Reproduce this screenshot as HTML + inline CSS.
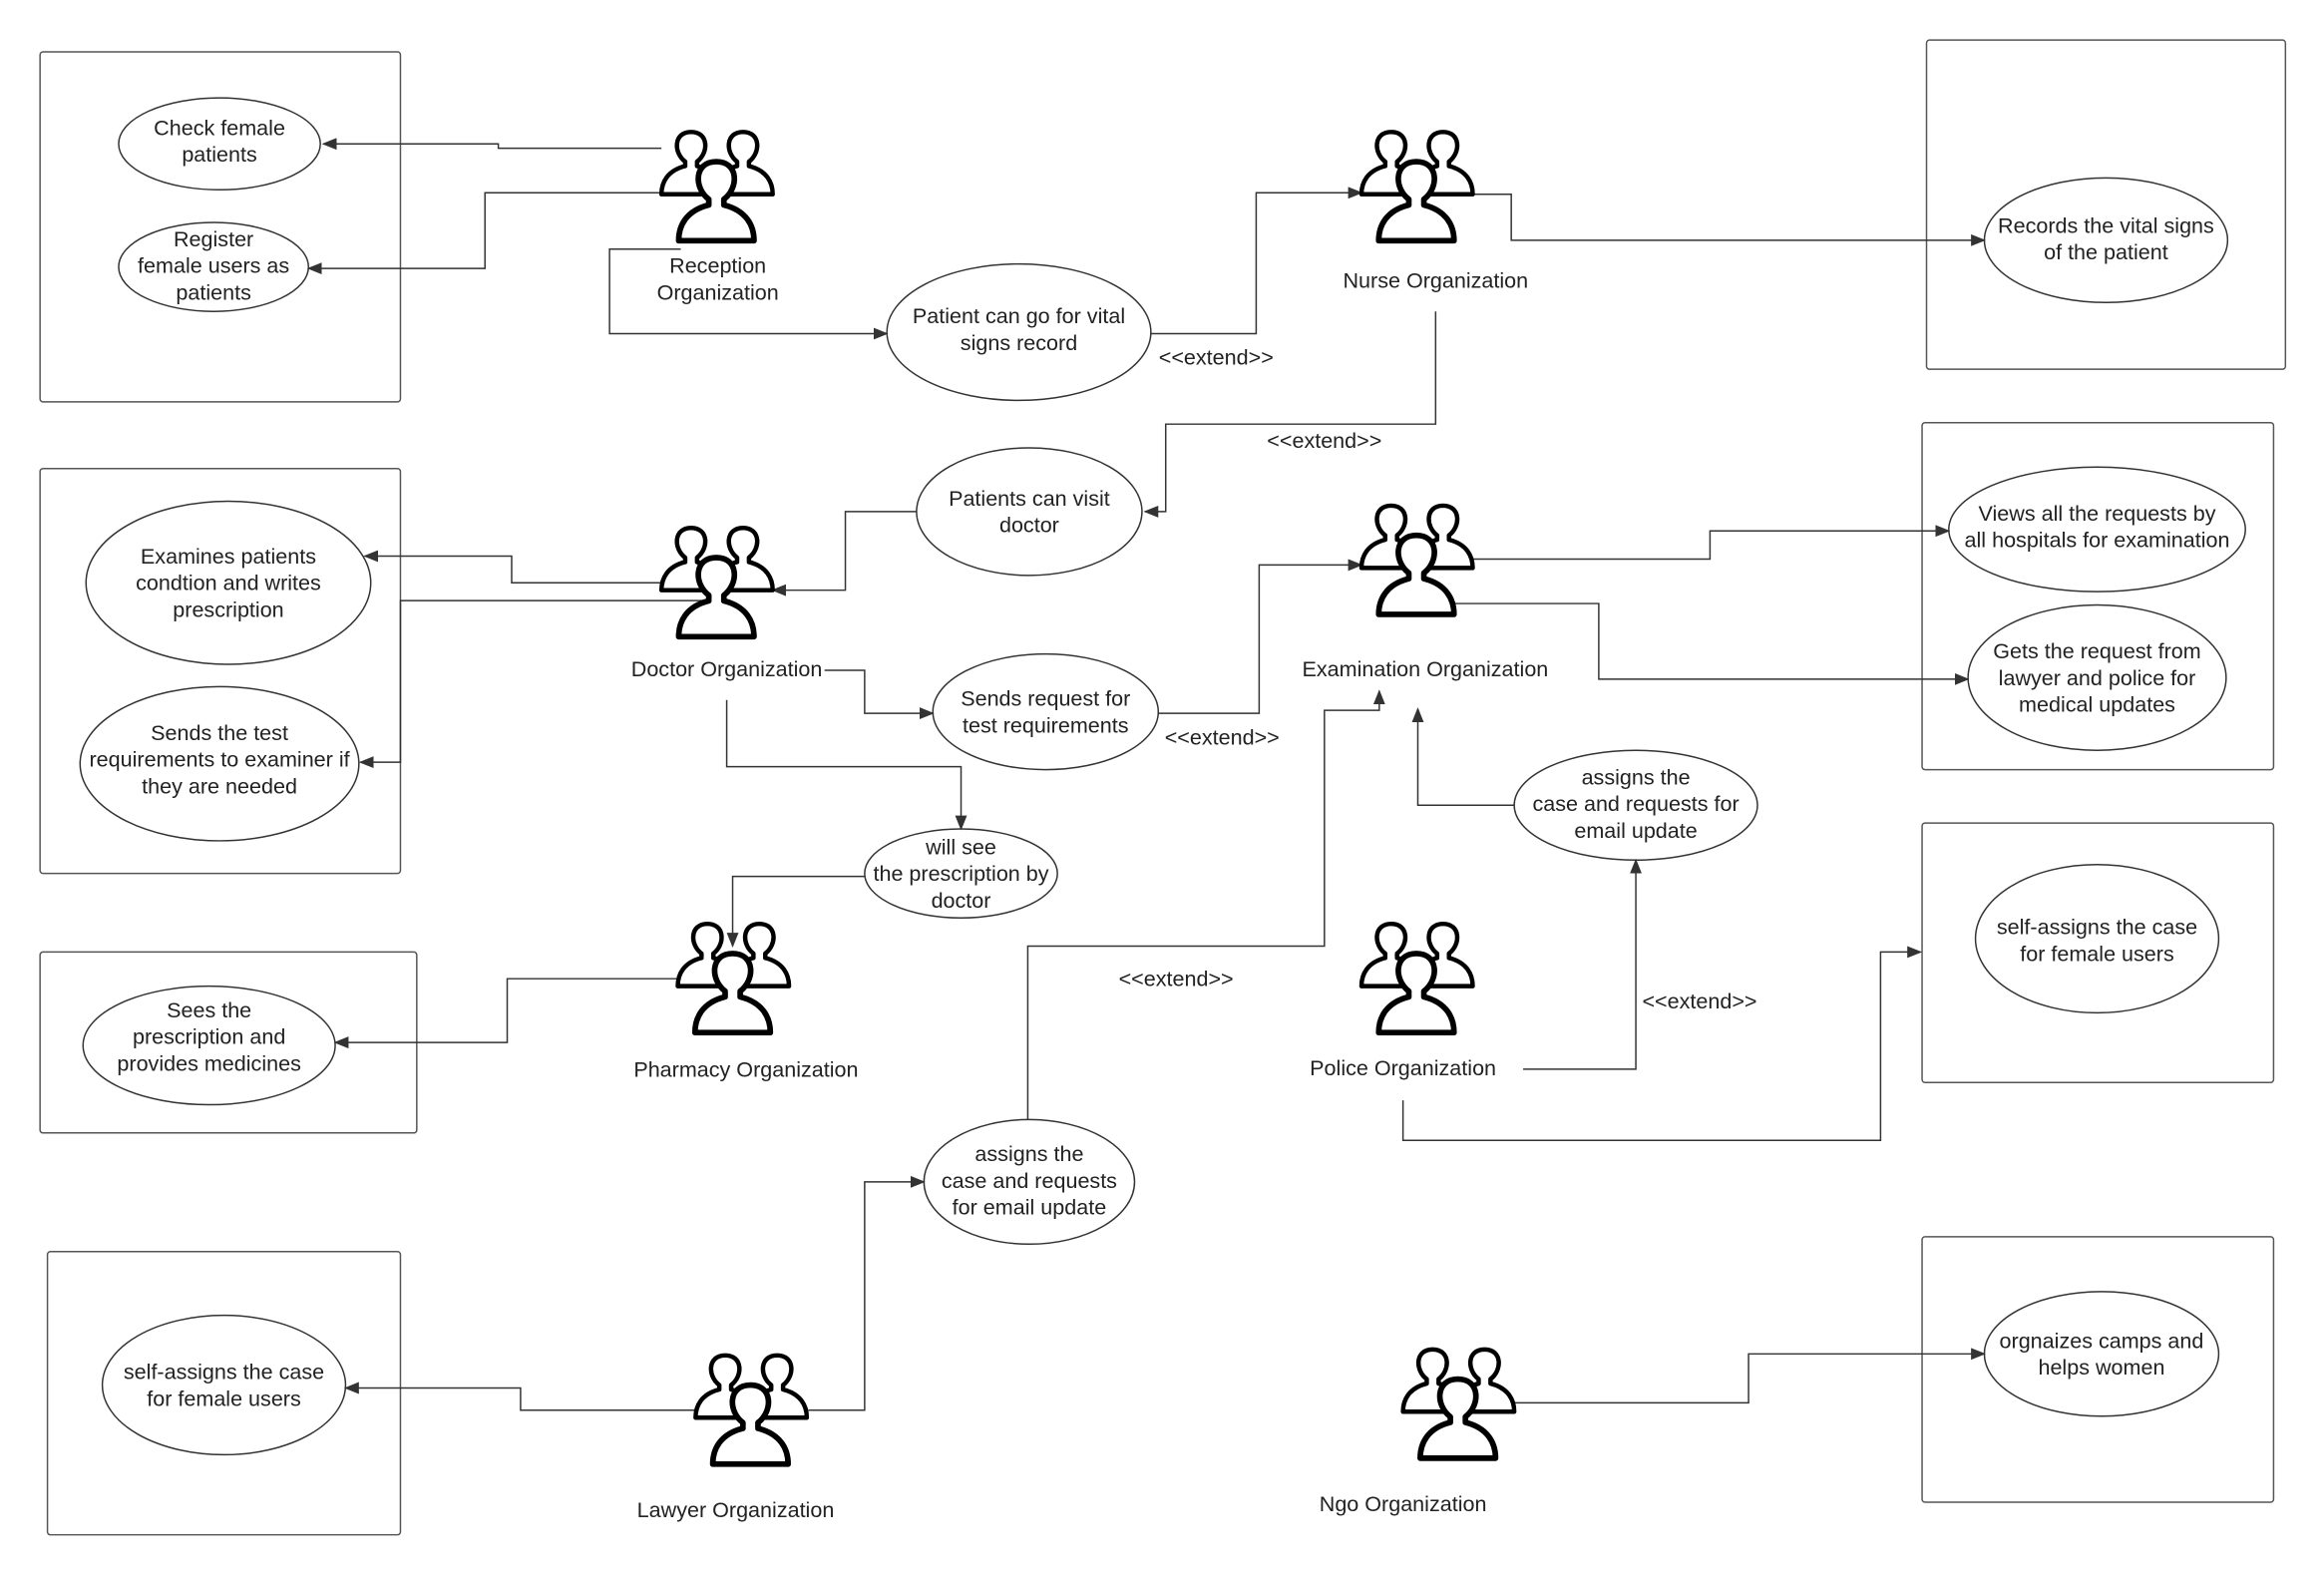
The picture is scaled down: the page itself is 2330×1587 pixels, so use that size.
<!DOCTYPE html>
<html><head><meta charset="utf-8"><style>
html,body{margin:0;padding:0;background:#fff;}
svg{display:block;}
text{font-family:"Liberation Sans",sans-serif;font-size:14.5px;fill:#222;text-anchor:middle;}
</style></head><body>
<svg width="2330" height="1587" viewBox="0 0 1567 1067.5" preserveAspectRatio="none" xmlns="http://www.w3.org/2000/svg">
<defs>
<marker id="a" markerWidth="10" markerHeight="8" refX="9" refY="4" orient="auto" markerUnits="userSpaceOnUse"><path d="M0,0 L10,4 L0,8 Z" fill="#333"/></marker>
<path id="p" d="M-4,20 C-12,14 -12,0 0,0 C12,0 12,14 4,20 L4,23 C16,26 20,34 20,42 L-20,42 C-20,34 -16,26 -4,23 Z" fill="#fff" stroke="#000" stroke-width="3" stroke-linejoin="round"/>
<g id="act">
<use href="#p" transform="translate(20,1)"/>
<use href="#p" transform="translate(55,1)"/>
<use href="#p" transform="translate(37,21) scale(1.27)"/>
</g>
</defs>
<g fill="none" stroke="#555" stroke-width="1">
<rect x="27" y="35" width="243" height="236" rx="2"/>
<rect x="1299" y="27" width="242" height="222" rx="2"/>
<rect x="27" y="316" width="243" height="273" rx="2"/>
<rect x="1296" y="285" width="237" height="234" rx="2"/>
<rect x="27" y="642" width="254" height="122" rx="2"/>
<rect x="1296" y="555" width="237" height="175" rx="2"/>
<rect x="32" y="844" width="238" height="191" rx="2"/>
<rect x="1296" y="834" width="237" height="179" rx="2"/>
</g>
<g fill="#fff" stroke="#333" stroke-width="1">
<ellipse cx="148" cy="97" rx="68" ry="31"/>
<ellipse cx="144" cy="180" rx="64" ry="30"/>
<ellipse cx="687" cy="224" rx="89" ry="46"/>
<ellipse cx="1420" cy="162" rx="82" ry="42"/>
<ellipse cx="694" cy="345" rx="76" ry="43"/>
<ellipse cx="154" cy="393" rx="96" ry="55"/>
<ellipse cx="148" cy="515" rx="94" ry="52"/>
<ellipse cx="1414" cy="357" rx="100" ry="42"/>
<ellipse cx="1414" cy="457" rx="87" ry="49"/>
<ellipse cx="705" cy="480" rx="76" ry="39"/>
<ellipse cx="1103" cy="543" rx="82" ry="37"/>
<ellipse cx="648" cy="589" rx="65" ry="30"/>
<ellipse cx="1414" cy="633" rx="82" ry="50"/>
<ellipse cx="141" cy="705" rx="85" ry="40"/>
<ellipse cx="694" cy="797" rx="71" ry="42"/>
<ellipse cx="151" cy="934" rx="82" ry="47"/>
<ellipse cx="1417" cy="913" rx="79" ry="42"/>
</g>
<g fill="none" stroke="#333" stroke-width="1" marker-end="url(#a)">
<polyline points="446,100 336,100 336,97 218,97"/>
<polyline points="446,130 327,130 327,181 208,181"/>
<polyline points="459,168 411,168 411,225 598,225"/>
<polyline points="776,225 847,225 847,130 918,130"/>
<polyline points="990,131 1019,131 1019,162 1338,162"/>
<polyline points="968,210 968,286 786,286 786,345 772,345"/>
<polyline points="618,345 570,345 570,398 521,398"/>
<polyline points="446,393 345,393 345,375 246,375"/>
<polyline points="478,405 270,405 270,514 243,514"/>
<polyline points="556,452 583,452 583,481 629,481"/>
<polyline points="781,481 849,481 849,381 918,381"/>
<polyline points="490,472 490,517 648,517 648,559"/>
<polyline points="583,591 494,591 494,638"/>
<polyline points="457,660 342,660 342,703 226,703"/>
<polyline points="992,377 1153,377 1153,358 1314,358"/>
<polyline points="968,395 968,407 1078,407 1078,458 1327,458"/>
<polyline points="1021,543 956,543 956,478"/>
<polyline points="1027,721 1103,721 1103,580"/>
<polyline points="946,742 946,769 1268,769 1268,642 1295,642"/>
<polyline points="693,755 693,638 893,638 893,479 930,479 930,466"/>
<polyline points="545,951 583,951 583,797 623,797"/>
<polyline points="469,951 351,951 351,936 233,936"/>
<polyline points="1020,946 1179,946 1179,913 1338,913"/>
</g>
<use href="#act" x="446" y="88"/>
<use href="#act" x="918" y="88"/>
<use href="#act" x="446" y="355"/>
<use href="#act" x="918" y="340"/>
<use href="#act" x="457" y="622"/>
<use href="#act" x="918" y="622"/>
<use href="#act" x="469" y="913"/>
<use href="#act" x="946" y="909"/>
<text x="148" y="91">Check female</text><text x="148" y="109">patients</text>
<text x="144" y="166">Register</text><text x="144" y="184">female users as</text><text x="144" y="202">patients</text>
<text x="687" y="218">Patient can go for vital</text><text x="687" y="236">signs record</text>
<text x="1420" y="157">Records the vital signs</text><text x="1420" y="175">of the patient</text>
<text x="694" y="341">Patients can visit</text><text x="694" y="359">doctor</text>
<text x="154" y="380">Examines patients</text><text x="154" y="398">condtion and writes</text><text x="154" y="416">prescription</text>
<text x="148" y="499">Sends the  test</text><text x="148" y="517">requirements to examiner if</text><text x="148" y="535">they are needed</text>
<text x="1414" y="351">Views all the requests by</text><text x="1414" y="369">all hospitals for examination</text>
<text x="1414" y="444">Gets the request from</text><text x="1414" y="462">lawyer and  police for</text><text x="1414" y="480">medical updates</text>
<text x="705" y="476">Sends request for</text><text x="705" y="494">test requirements</text>
<text x="1103" y="529">assigns the</text><text x="1103" y="547">case and requests for</text><text x="1103" y="565">email update</text>
<text x="648" y="576">will see</text><text x="648" y="594">the prescription by</text><text x="648" y="612">doctor</text>
<text x="1414" y="630">self-assigns the case</text><text x="1414" y="648">for female users</text>
<text x="141" y="686">Sees the</text><text x="141" y="704">prescription and</text><text x="141" y="722">provides medicines</text>
<text x="694" y="783">assigns the</text><text x="694" y="801">case and requests</text><text x="694" y="819">for email update</text>
<text x="151" y="930">self-assigns the case</text><text x="151" y="948">for female users</text>
<text x="1417" y="909">orgnaizes camps and</text><text x="1417" y="927">helps women</text>
<text x="484" y="184">Reception</text><text x="484" y="202">Organization</text>
<text x="968" y="194">Nurse Organization</text>
<text x="490" y="456">Doctor Organization</text>
<text x="961" y="456">Examination Organization</text>
<text x="503" y="726">Pharmacy Organization</text>
<text x="946" y="725">Police Organization</text>
<text x="496" y="1023">Lawyer Organization</text>
<text x="946" y="1019">Ngo Organization</text>
<text x="820" y="246">&lt;&lt;extend&gt;&gt;</text>
<text x="893" y="302">&lt;&lt;extend&gt;&gt;</text>
<text x="824" y="502">&lt;&lt;extend&gt;&gt;</text>
<text x="793" y="665">&lt;&lt;extend&gt;&gt;</text>
<text x="1146" y="680">&lt;&lt;extend&gt;&gt;</text>
</svg>
</body></html>
